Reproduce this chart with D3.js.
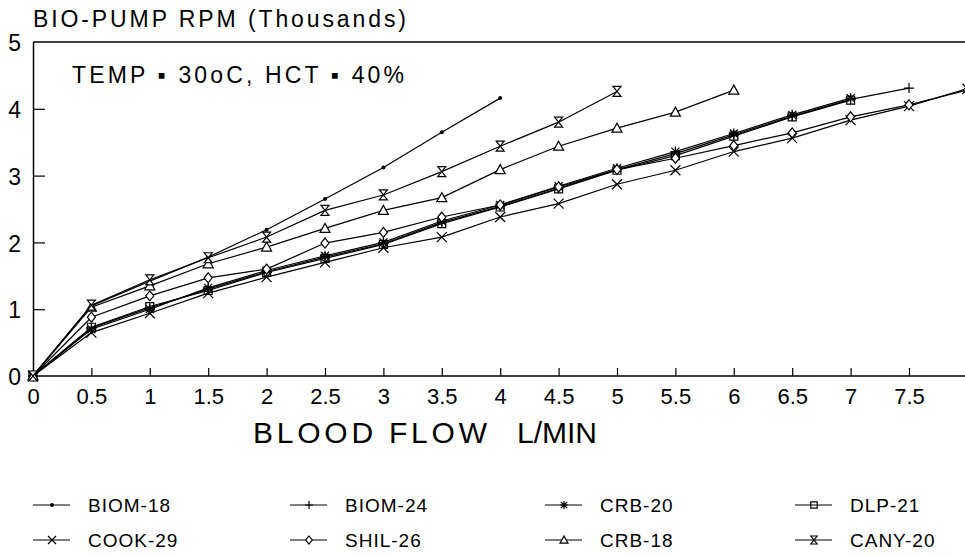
<!DOCTYPE html>
<html>
<head>
<meta charset="utf-8">
<script src="https://cdn.jsdelivr.net/npm/d3@7"></script>
<style>
  body { margin: 0; background: #fff; }
  svg { display: block; font-family: "Liberation Sans", Arial, sans-serif; }
</style>
</head>
<body>
<script>
// chart values
var flow = [0, 0.5, 1, 1.5, 2, 2.5, 3, 3.5, 4, 4.5, 5, 5.5, 6, 6.5, 7, 7.5, 8];

var biom18 = [0, 1.05, 1.42, 1.78, 2.19, 2.65, 3.12, 3.65, 4.16];
var biom24 = [0, 0.72, 1.02, 1.30, 1.56, 1.78, 1.98, 2.30, 2.54, 2.81, 3.09, 3.33, 3.61, 3.89, 4.14, 4.31];
var crb20  = [0, 0.70, 1.00, 1.32, 1.58, 1.80, 2.00, 2.32, 2.56, 2.84, 3.11, 3.36, 3.63, 3.91, 4.16];
var dlp21  = [0, 0.73, 1.04, 1.28, 1.55, 1.76, 1.97, 2.28, 2.53, 2.80, 3.08, 3.30, 3.59, 3.88, 4.13];
var cook29 = [0, 0.65, 0.94, 1.24, 1.48, 1.70, 1.92, 2.08, 2.38, 2.58, 2.87, 3.08, 3.36, 3.56, 3.83, 4.04, 4.30];
var shil26 = [0, 0.88, 1.20, 1.47, 1.60, 1.99, 2.15, 2.38, 2.56, 2.83, 3.09, 3.26, 3.45, 3.64, 3.88, 4.06, 4.28];
var crb18  = [0, 1.03, 1.35, 1.68, 1.93, 2.21, 2.48, 2.67, 3.09, 3.44, 3.71, 3.95, 4.28];
var cany20 = [0, 1.06, 1.44, 1.77, 2.08, 2.48, 2.71, 3.06, 3.44, 3.80, 4.26];

var seriesNames = ["BIOM-18", "BIOM-24", "CRB-20", "DLP-21", "COOK-29", "SHIL-26", "CRB-18", "CANY-20"];
var seriesValues = [biom18, biom24, crb20, dlp21, cook29, shil26, crb18, cany20];
var seriesMarks = ["dot", "plus", "star", "square", "cross", "diamond", "triangle", "hourglass"];

var xTicks = [0, 0.5, 1, 1.5, 2, 2.5, 3, 3.5, 4, 4.5, 5, 5.5, 6, 6.5, 7, 7.5];
var yTicks = [0, 1, 2, 3, 4, 5];

(function(){
    var width = 965, height = 556;

    var svg = d3.select("body").append("svg")
        .attr("width", width)
        .attr("height", height);

    var x = d3.scaleLinear().domain([0, 8]).range([33, 33 + 116.8 * 8]);
    var y = d3.scaleLinear().domain([0, 5]).range([376, 42]);

    // top border of the frame
    svg.append("line").attr("x1", x(0)).attr("x2", width).attr("y1", y(5)).attr("y2", y(5))
        .attr("stroke", "#000").attr("stroke-width", 1.3);

    var xAxis = d3.axisBottom(x).tickValues(xTicks).tickSize(-8).tickSizeOuter(0)
        .tickFormat(function(d){ return String(d); });
    var gx = svg.append("g").attr("transform", "translate(0," + y(0) + ")").call(xAxis);
    gx.select(".domain").attr("d", "M" + x(0) + ",0H" + width).attr("stroke-width", 1.5);
    gx.selectAll(".tick line").attr("stroke-width", 1.2);
    gx.selectAll(".tick").filter(function(d){ return d === 0; }).select("line").remove();
    gx.selectAll(".tick text").attr("y", 12).attr("dy", "0.71em")
        .attr("font-size", 22).attr("font-family", "Liberation Sans, Arial, sans-serif").attr("fill", "#000");

    var yAxis = d3.axisLeft(y).tickValues(yTicks).tickSize(-12).tickSizeOuter(0).tickFormat(d3.format("d"));
    var gy = svg.append("g").attr("transform", "translate(" + x(0) + ",0)").call(yAxis);
    gy.select(".domain").attr("stroke-width", 1.5);
    gy.selectAll(".tick line").attr("stroke-width", 1.2);
    gy.selectAll(".tick").filter(function(d){ return d === 0 || d === 5; }).select("line").remove();
    gy.selectAll(".tick text").attr("x", -12).attr("dy", "0.38em")
        .attr("font-size", 23).attr("font-family", "Liberation Sans, Arial, sans-serif").attr("fill", "#000");

    // marker shapes
    function markPath(type){
        switch(type){
            case "plus": return "M-5,0H5M0,-5V5";
            case "star": return "M-5,0H5M0,-5V5M-4,-4L4,4M-4,4L4,-4";
            case "square": return "M-4,-4H4V4H-4Z";
            case "cross": return "M-5,-5L5,5M-5,5L5,-5";
            case "diamond": return "M0,-5L4,0L0,5L-4,0Z";
            case "triangle": return "M0,-5L5,4H-5Z";
            case "hourglass": return "M-4,-5H4L-4,5H4Z";
        }
        return "";
    }

    function drawMark(g, type, cx, cy, k){
        k = k || 1;
        if (type === "dot"){
            g.append("circle").attr("cx", cx).attr("cy", cy).attr("r", 2).attr("fill", "#000");
        } else {
            g.append("path").attr("d", markPath(type))
                .attr("transform", "translate(" + cx + "," + cy + ") scale(" + k + ")")
                .attr("fill", type === "diamond" || type === "triangle" || type === "hourglass" ? "#fff" : "none")
                .attr("stroke", "#000").attr("stroke-width", 1.2 / k);
        }
    }

    var line = d3.line()
        .x(function(d, i){ return x(flow[i]); })
        .y(function(d){ return y(d); });

    var plot = svg.append("g");
    seriesValues.forEach(function(vals){
        plot.append("path").datum(vals)
            .attr("d", line)
            .attr("fill", "none")
            .attr("stroke", "#000")
            .attr("stroke-width", 1.2);
    });
    seriesValues.forEach(function(vals, s){
        vals.forEach(function(v, i){
            drawMark(plot, seriesMarks[s], x(flow[i]), y(v));
        });
    });

    // texts
    svg.append("text").attr("x", 33).attr("y", 27).attr("font-size", 23)
        .attr("textLength", 373).attr("lengthAdjust", "spacing")
        .text("BIO-PUMP RPM (Thousands)");
    svg.append("text").attr("x", 72).attr("y", 83).attr("font-size", 23)
        .attr("textLength", 332).attr("lengthAdjust", "spacing")
        .text("TEMP \u25AA 30oC, HCT \u25AA 40%");
    svg.append("text").attr("x", 253).attr("y", 443).attr("font-size", 30)
        .attr("textLength", 234).attr("lengthAdjust", "spacing")
        .text("BLOOD FLOW");
    svg.append("text").attr("x", 517).attr("y", 443).attr("font-size", 30)
        .attr("textLength", 80).attr("lengthAdjust", "spacing")
        .text("L/MIN");

    // legend
    var legX = [33, 290, 545, 795], legY = [505, 540];
    seriesNames.forEach(function(name, s){
        var col = s % 4, row = Math.floor(s / 4);
        var lx = legX[col], ly = legY[row];
        var g = svg.append("g");
        g.append("line").attr("x1", lx).attr("x2", lx + 37).attr("y1", ly).attr("y2", ly)
            .attr("stroke", "#000").attr("stroke-width", 1.2);
        drawMark(g, seriesMarks[s], lx + 19, ly, 0.8);
        g.append("text").attr("x", lx + 55).attr("y", ly + 7).attr("font-size", 19)
            .attr("letter-spacing", 1).text(name);
    });
})();
</script>
</body>
</html>
